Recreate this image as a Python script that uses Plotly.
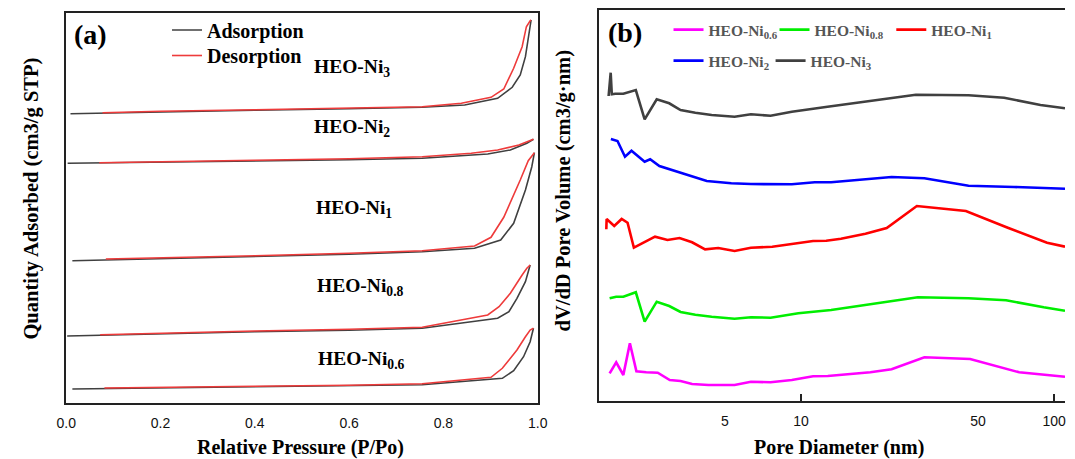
import plotly.graph_objects as go
import math

# ---------------- (a) N2 adsorption / desorption isotherms (arbitrary offset units) ----------------
ni3_ads_p = [0.009, 0.2, 0.4, 0.6, 0.755, 0.845, 0.915, 0.946, 0.963, 0.974, 0.980, 0.986]
ni3_ads_q = [289.6, 291.5, 293.0, 294.5, 296.0, 298.3, 305.0, 316.0, 328.3, 346.6, 366.6, 383.3]
ni3_des_p = [0.986, 0.984, 0.976, 0.967, 0.949, 0.928, 0.901, 0.838, 0.755, 0.6, 0.4, 0.2, 0.077]
ni3_des_q = [383.3, 382.6, 376.6, 356.6, 335.0, 314.3, 306.0, 300.0, 296.6, 295.0, 293.5, 292.0, 290.6]

ni2_ads_p = [0.003, 0.2, 0.4, 0.6, 0.755, 0.894, 0.942, 0.977, 0.991]
ni2_ads_q = [240.0, 241.2, 242.0, 243.5, 245.0, 249.3, 253.3, 260.0, 264.0]
ni2_des_p = [0.991, 0.960, 0.915, 0.859, 0.755, 0.6, 0.4, 0.2, 0.070]
ni2_des_q = [264.0, 258.3, 253.3, 250.0, 246.6, 244.5, 243.0, 241.5, 240.5]

ni1_ads_p = [0.013, 0.2, 0.4, 0.6, 0.755, 0.866, 0.9215, 0.949, 0.974, 0.9875, 0.993]
ni1_ads_q = [142.6, 144.5, 146.5, 149.0, 151.6, 155.0, 163.3, 180.0, 213.3, 236.6, 250.6]
ni1_des_p = [0.993, 0.980, 0.963, 0.928, 0.901, 0.866, 0.755, 0.6, 0.4, 0.2, 0.084]
ni1_des_q = [250.6, 242.6, 223.3, 186.0, 166.0, 157.3, 152.6, 150.0, 147.5, 145.5, 144.3]

ni08_ads_p = [0.002, 0.2, 0.4, 0.6, 0.755, 0.915, 0.939, 0.956, 0.974, 0.984]
ni08_ads_q = [67.3, 69.5, 71.5, 73.0, 75.0, 85.0, 91.6, 105.0, 121.6, 138.3]
ni08_des_p = [0.984, 0.977, 0.967, 0.942, 0.918, 0.894, 0.755, 0.6, 0.4, 0.2, 0.072]
ni08_des_q = [138.3, 135.0, 128.3, 110.0, 96.6, 88.3, 76.0, 74.0, 72.3, 70.3, 68.6]

ni06_ads_p = [0.013, 0.2, 0.4, 0.6, 0.755, 0.925, 0.949, 0.970, 0.984, 0.991]
ni06_ads_q = [14.3, 15.5, 16.5, 17.5, 18.5, 25.0, 32.6, 46.6, 61.6, 75.0]
ni06_des_p = [0.991, 0.984, 0.974, 0.956, 0.925, 0.901, 0.755, 0.6, 0.4, 0.2, 0.081]
ni06_des_q = [75.0, 73.3, 66.6, 53.3, 35.0, 26.0, 19.5, 18.0, 17.0, 16.0, 15.3]

iso_labels = ["HEO-Ni<sub>3</sub>", "HEO-Ni<sub>2</sub>", "HEO-Ni<sub>1</sub>",
              "HEO-Ni<sub>0.8</sub>", "HEO-Ni<sub>0.6</sub>"]
iso_label_q = [335.3, 275.3, 194.3, 116.6, 43.3]
iso_label_p = [0.522, 0.522, 0.526, 0.528, 0.530]

# ---------------- (b) BJH pore size distributions (arbitrary offset units) ----------------
d_ni06 = [1.755, 1.863, 1.988, 2.110, 2.239, 2.448, 2.718, 3.032, 3.345, 3.714, 4.310, 5.466,
          6.343, 7.584, 9.20, 11.16, 12.76, 18.79, 22.79, 30.71, 46.54, 72.71, 110.3]
v_ni06 = [27.7, 38.7, 26.0, 57.7, 29.7, 28.7, 28.3, 21.0, 20.0, 17.0, 16.0, 16.0,
          19.3, 18.7, 21.0, 24.7, 25.0, 28.7, 31.7, 43.7, 42.0, 28.7, 24.3]

d_ni08 = [1.755, 1.863, 1.988, 2.227, 2.413, 2.693, 3.017, 3.345, 3.825, 4.439, 5.466, 6.343,
          7.584, 9.76, 13.15, 21.80, 28.93, 45.88, 64.58, 90.90, 110.3]
v_ni08 = [102.7, 104.3, 104.3, 108.7, 79.3, 99.3, 95.0, 89.0, 86.3, 84.3, 82.3, 83.7,
          83.3, 87.7, 91.0, 99.0, 103.7, 102.7, 100.7, 93.7, 90.3]

d_ni1 = [1.703, 1.708, 1.830, 1.958, 2.066, 2.188, 2.652, 2.971, 3.315, 3.714, 4.181, 4.713,
         5.466, 6.343, 7.700, 9.20, 11.16, 12.58, 14.38, 17.97, 21.80, 28.67, 44.79, 65.56,
         93.69, 110.3]
v_ni1 = [171.7, 182.0, 175.0, 182.0, 178.3, 153.3, 164.3, 161.0, 163.0, 158.7, 151.7, 153.0,
         150.0, 153.3, 154.3, 156.7, 160.0, 160.3, 162.3, 167.3, 173.0, 195.0, 190.0, 173.3,
         158.3, 154.3]

d_ni2 = [1.775, 1.885, 2.018, 2.141, 2.413, 2.537, 2.759, 3.714, 4.245, 5.306, 6.343, 9.20,
         11.33, 13.15, 15.72, 22.79, 30.71, 45.88, 69.36, 110.3]
v_ni2 = [262.0, 260.0, 244.3, 250.3, 239.3, 241.7, 235.0, 225.0, 220.0, 217.7, 217.0, 216.7,
         218.7, 218.7, 220.3, 224.0, 222.7, 215.3, 214.0, 212.3]

d_ni3 = [1.739, 1.772, 1.790, 1.847, 1.988, 2.097, 2.227, 2.413, 2.693, 3.017, 3.345, 3.825,
         4.439, 5.466, 6.343, 7.584, 9.20, 12.73, 21.17, 28.41, 45.88, 63.43, 88.26, 110.3]
v_ni3 = [305.0, 328.3, 306.7, 307.3, 307.3, 308.7, 311.0, 281.7, 301.7, 297.7, 291.0, 288.3,
         286.0, 284.3, 286.7, 285.3, 289.3, 294.3, 301.7, 306.3, 305.7, 303.3, 296.0, 292.7]

pore_ticks = [5, 10, 50, 100]
pore_major = [10, 100]
p_ticks = [0.0, 0.2, 0.4, 0.6, 0.8, 1.0]

SERIF = "Liberation Serif"
SANS = "Liberation Sans"
GREY = "#404040"
ISO_RED = "#ee3b3b"

W, H = 1075, 459
def px(x):
    return x / W
def py(y):
    return 1 - y / H

fig = go.Figure()

iso = [
    (ni3_ads_p, ni3_ads_q, ni3_des_p, ni3_des_q),
    (ni2_ads_p, ni2_ads_q, ni2_des_p, ni2_des_q),
    (ni1_ads_p, ni1_ads_q, ni1_des_p, ni1_des_q),
    (ni08_ads_p, ni08_ads_q, ni08_des_p, ni08_des_q),
    (ni06_ads_p, ni06_ads_q, ni06_des_p, ni06_des_q),
]
for i, (ap, aq, dp, dq) in enumerate(iso):
    fig.add_trace(go.Scatter(x=ap, y=aq, mode="lines", name="Adsorption",
                             line=dict(color=GREY, width=1.6),
                             showlegend=(i == 0), legend="legend",
                             xaxis="x", yaxis="y"))
for i, (ap, aq, dp, dq) in enumerate(iso):
    fig.add_trace(go.Scatter(x=dp, y=dq, mode="lines", name="Desorption",
                             line=dict(color=ISO_RED, width=1.6),
                             showlegend=(i == 0), legend="legend2",
                             xaxis="x", yaxis="y"))

psd = [
    ("HEO-Ni<sub>0.6</sub>", d_ni06, v_ni06, "#ff00ff", "legend3", 676, 30),
    ("HEO-Ni<sub>0.8</sub>", d_ni08, v_ni08, "#00ee00", "legend4", 784, 30),
    ("HEO-Ni<sub>1</sub>", d_ni1, v_ni1, "#ff0000", "legend5", 903, 30),
    ("HEO-Ni<sub>2</sub>", d_ni2, v_ni2, "#0000ff", "legend6", 676, 61),
    ("HEO-Ni<sub>3</sub>", d_ni3, v_ni3, GREY, "legend7", 780, 61),
]
for name, d, v, c, lg, lx, ly in psd:
    fig.add_trace(go.Scatter(x=d, y=v, mode="lines", name=name,
                             line=dict(color=c, width=2.6),
                             legend=lg, xaxis="x2", yaxis="y2"))

frame = dict(showline=True, linecolor="#222222", linewidth=1.5, showgrid=False, zeroline=False)

def one_legend(x_line, y_mid, size, color):
    return dict(x=px(x_line - 5), y=py(y_mid), xanchor="left", yanchor="middle",
                orientation="h", bgcolor="rgba(0,0,0,0)", borderwidth=0,
                font=dict(family=SERIF, size=size, color=color, weight="bold"))

legends = {
    "legend": one_legend(165, 30, 20, "black"),
    "legend2": one_legend(165, 55.5, 20, "black"),
}
for name, d, v, c, lg, lx, ly in psd:
    legends[lg] = one_legend(lx, ly, 15.5, "#555555")

fig.update_layout(
    width=W, height=H, margin=dict(l=0, r=0, t=0, b=0),
    paper_bgcolor="white", plot_bgcolor="white",
    xaxis=dict(domain=[px(57.3), px(537.7)], range=[0, 1], tickvals=p_ticks,
               tickformat=".1f", ticks="", mirror=True, anchor="y",
               tickfont=dict(family=SANS, size=14, color="#111111"),
               ticklabelstandoff=6, **frame),
    yaxis=dict(domain=[py(403.3), py(13.3)], range=[0, 390], showticklabels=False,
               ticks="", mirror=True, anchor="x", **frame),
    xaxis2=dict(domain=[px(600), 1.0], type="log",
                range=[math.log10(1.591), math.log10(110.3)],
                tickvals=pore_ticks, ticktext=[str(t) for t in pore_ticks], ticks="",
                minor=dict(tickmode="array", tickvals=pore_major, ticks="inside",
                           ticklen=7, tickwidth=1.5, tickcolor="#222222"),
                mirror=True, anchor="y2",
                tickfont=dict(family=SANS, size=14, color="#111111"),
                ticklabelstandoff=6, **frame),
    yaxis2=dict(domain=[py(401), py(9.6)], range=[0, 391.4], showticklabels=False,
                ticks="", mirror=False, anchor="x2", **frame),
    **legends,
)

ann = []
for lab, q, p in zip(iso_labels, iso_label_q, iso_label_p):
    ann.append(dict(x=p, y=q, xref="x", yref="y", text=lab, showarrow=False,
                    xanchor="left", yanchor="middle",
                    font=dict(family=SERIF, size=19.5, color="black", weight="bold")))
ann += [
    dict(x=px(82), y=py(34), xref="paper", yref="paper", text="(a)", showarrow=False,
         xanchor="center", yanchor="middle",
         font=dict(family=SERIF, size=28, color="black", weight="bold")),
    dict(x=px(627), y=py(32), xref="paper", yref="paper", text="(b)", showarrow=False,
         xanchor="center", yanchor="middle",
         font=dict(family=SERIF, size=28, color="black", weight="bold")),
    dict(x=px(296), y=py(447), xref="paper", yref="paper", text="Relative Pressure (P/Po)",
         showarrow=False, xanchor="center", yanchor="middle",
         font=dict(family=SERIF, size=20, color="black", weight="bold")),
    dict(x=px(845), y=py(447), xref="paper", yref="paper", text="Pore Diameter (nm)",
         showarrow=False, xanchor="center", yanchor="middle",
         font=dict(family=SERIF, size=20, color="black", weight="bold")),
    dict(x=px(22), y=py(199), xref="paper", yref="paper", text="Quantity Adsorbed (cm3/g STP)",
         showarrow=False, xanchor="center", yanchor="middle", textangle=-90,
         font=dict(family=SERIF, size=20.5, color="black", weight="bold")),
    dict(x=px(564), y=py(191), xref="paper", yref="paper", text="dV/dD Pore Volume (cm3/g·nm)",
         showarrow=False, xanchor="center", yanchor="middle", textangle=-90,
         font=dict(family=SERIF, size=20.5, color="black", weight="bold")),
]
fig.update_layout(annotations=ann)

fig.write_html("out.html")
